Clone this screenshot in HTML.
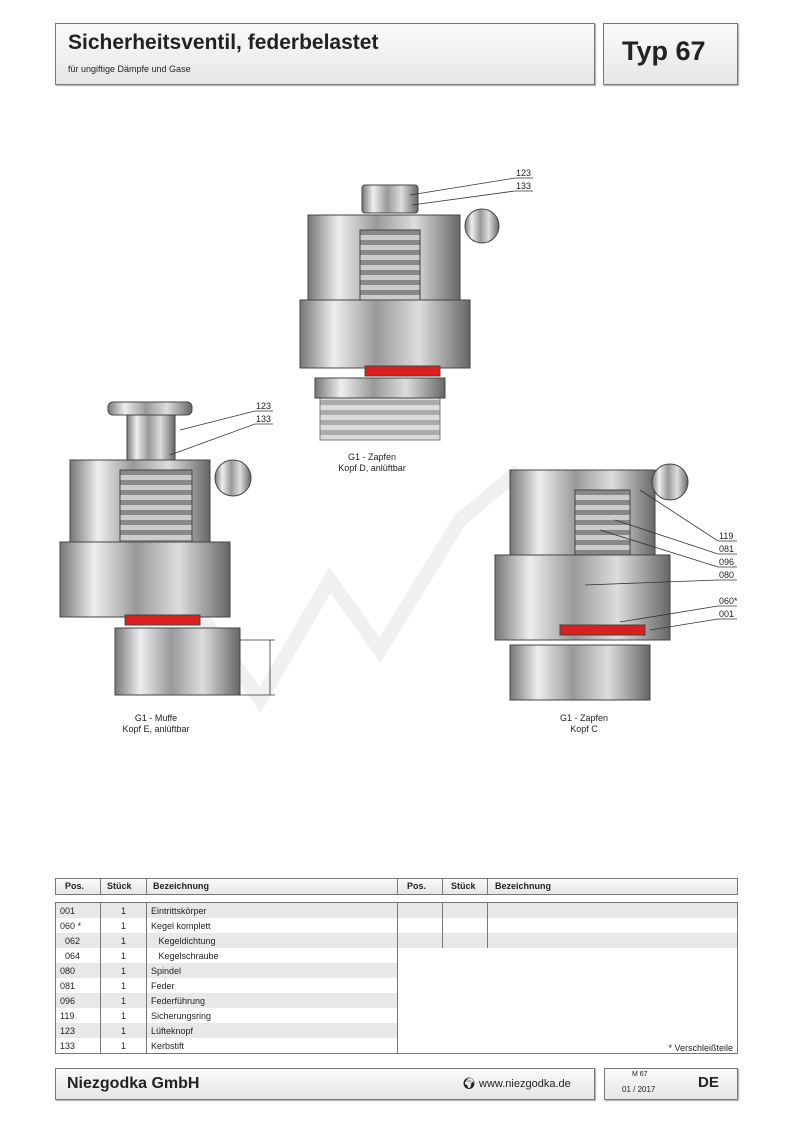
<!DOCTYPE html>
<html><head><meta charset="utf-8"><style>
body{margin:0;width:793px;height:1122px;background:#fff;font-family:"Liberation Sans",sans-serif;position:relative;overflow:hidden}
.box{position:absolute;border:1px solid #777;background:linear-gradient(#fafafa,#e6e6e6);box-shadow:1px 1px 1px #aaa}
.t{position:absolute;font-size:9px;color:#222;white-space:nowrap}
table{position:absolute;border-collapse:collapse;font-size:9px;color:#222}
td{height:15px;padding:0 4px;border-left:1px solid #777;border-right:1px solid #777}
</style></head><body>
<div class="box" style="left:55px;top:23px;width:538px;height:60px"></div>
<div class="t" style="left:68px;top:31px;font-size:21px;font-weight:bold;color:#222">Sicherheitsventil, federbelastet</div>
<div class="t" style="left:68px;top:64px;font-size:9px">für ungiftige Dämpfe und Gase</div>
<div class="box" style="left:603px;top:23px;width:133px;height:60px"></div>
<div class="t" style="left:622px;top:36px;font-size:27px;font-weight:bold">Typ 67</div>

<svg width="793" height="760" style="position:absolute;left:0;top:0">
<defs>
<linearGradient id="g" x1="0" x2="1"><stop offset="0" stop-color="#777"/><stop offset=".2" stop-color="#eee"/><stop offset=".45" stop-color="#999"/><stop offset=".7" stop-color="#ddd"/><stop offset="1" stop-color="#666"/></linearGradient>
<pattern id="sp" width="10" height="10" patternUnits="userSpaceOnUse"><rect width="10" height="10" fill="#ccc"/><rect y="0" width="10" height="5" fill="#888"/></pattern>
</defs>
<!-- watermark -->
<path d="M190 600 L260 700 L330 580 L380 650 L460 520 L520 470" fill="none" stroke="#f0f0f0" stroke-width="14"/>
<g stroke="#444" stroke-width="1">
<!-- valve 1 -->
<rect x="362" y="185" width="56" height="28" rx="3" fill="url(#g)"/>
<rect x="308" y="215" width="152" height="85" fill="url(#g)"/>
<rect x="360" y="230" width="60" height="120" fill="url(#sp)"/>
<rect x="300" y="300" width="170" height="68" fill="url(#g)"/>
<rect x="365" y="366" width="75" height="10" fill="#d82020"/>
<rect x="315" y="378" width="130" height="20" fill="url(#g)"/>
<rect x="320" y="398" width="120" height="42" fill="url(#sp)" opacity=".7"/>
<circle cx="482" cy="226" r="17" fill="url(#g)"/>
<!-- valve 2 -->
<rect x="108" y="402" width="84" height="13" rx="5" fill="url(#g)"/>
<rect x="127" y="415" width="48" height="50" fill="url(#g)"/>
<rect x="70" y="460" width="140" height="82" fill="url(#g)"/>
<rect x="120" y="470" width="72" height="140" fill="url(#sp)"/>
<rect x="60" y="542" width="170" height="75" fill="url(#g)"/>
<rect x="125" y="615" width="75" height="10" fill="#d82020"/>
<rect x="115" y="628" width="125" height="67" fill="url(#g)"/>
<circle cx="233" cy="478" r="18" fill="url(#g)"/>
<!-- valve 3 -->
<rect x="510" y="470" width="145" height="85" fill="url(#g)"/>
<rect x="575" y="490" width="55" height="125" fill="url(#sp)"/>
<rect x="495" y="555" width="175" height="85" fill="url(#g)"/>
<rect x="560" y="625" width="85" height="10" fill="#d82020"/>
<rect x="510" y="645" width="140" height="55" fill="url(#g)"/>
<circle cx="670" cy="482" r="18" fill="url(#g)"/>
</g>
<g stroke="#333" stroke-width=".8" fill="none">
<path d="M533 178H515L410 195M533 191H515L412 205"/>
<path d="M273 411H255L180 430M273 424H255L170 455"/>
<path d="M737 541H718L640 490M737 554H718L615 520M737 567H718L600 530M737 580H718L585 585M737 606H718L620 622M737 619H718L650 630"/>
<path d="M240 640H275M240 695H275M270 640V695"/>
</g>
<g font-family="Liberation Sans" font-size="9" fill="#222">
<text x="516" y="176">123</text><text x="516" y="189">133</text>
<text x="256" y="409">123</text><text x="256" y="422">133</text>
<text x="719" y="539">119</text><text x="719" y="552">081</text><text x="719" y="565">096</text><text x="719" y="578">080</text><text x="719" y="604">060*</text><text x="719" y="617">001</text>
<text x="372" y="460" text-anchor="middle">G1 - Zapfen</text><text x="372" y="471" text-anchor="middle">Kopf D, anlüftbar</text>
<text x="156" y="721" text-anchor="middle">G1 - Muffe</text><text x="156" y="732" text-anchor="middle">Kopf E, anlüftbar</text>
<text x="584" y="721" text-anchor="middle">G1 - Zapfen</text><text x="584" y="732" text-anchor="middle">Kopf C</text>
</g>
</svg>

<div class="box" style="left:55px;top:878px;width:681px;height:15px;box-shadow:none"></div>
<div class="t" style="left:65px;top:881px;font-weight:bold">Pos.</div>
<div class="t" style="left:107px;top:881px;font-weight:bold">Stück</div>
<div class="t" style="left:153px;top:881px;font-weight:bold">Bezeichnung</div>
<div class="t" style="left:407px;top:881px;font-weight:bold">Pos.</div>
<div class="t" style="left:451px;top:881px;font-weight:bold">Stück</div>
<div class="t" style="left:495px;top:881px;font-weight:bold">Bezeichnung</div>
<div style="position:absolute;left:100px;top:878px;width:1px;height:17px;background:#777"></div>
<div style="position:absolute;left:146px;top:878px;width:1px;height:17px;background:#777"></div>
<div style="position:absolute;left:397px;top:878px;width:1px;height:17px;background:#777"></div>
<div style="position:absolute;left:442px;top:878px;width:1px;height:17px;background:#777"></div>
<div style="position:absolute;left:487px;top:878px;width:1px;height:17px;background:#777"></div>

<table style="left:55px;top:902px;width:683px;border:1px solid #777">
<colgroup><col style="width:45px"><col style="width:46px"><col style="width:251px"><col style="width:45px"><col style="width:45px"><col></colgroup>
<tr style="background:#e8e8e8"><td>001</td><td align="center">1</td><td>Eintrittskörper</td><td></td><td></td><td></td></tr>
<tr><td>060 *</td><td align="center">1</td><td>Kegel komplett</td><td></td><td></td><td></td></tr>
<tr style="background:#e8e8e8"><td>&nbsp;&nbsp;062</td><td align="center">1</td><td>&nbsp;&nbsp;&nbsp;Kegeldichtung</td><td></td><td></td><td></td></tr>
<tr><td>&nbsp;&nbsp;064</td><td align="center">1</td><td>&nbsp;&nbsp;&nbsp;Kegelschraube</td><td colspan="3" rowspan="7" style="vertical-align:bottom;text-align:right;background:#fff">* Verschleißteile</td></tr>
<tr style="background:#e8e8e8"><td>080</td><td align="center">1</td><td>Spindel</td></tr>
<tr><td>081</td><td align="center">1</td><td>Feder</td></tr>
<tr style="background:#e8e8e8"><td>096</td><td align="center">1</td><td>Federführung</td></tr>
<tr><td>119</td><td align="center">1</td><td>Sicherungsring</td></tr>
<tr style="background:#e8e8e8"><td>123</td><td align="center">1</td><td>Lüfteknopf</td></tr>
<tr><td>133</td><td align="center">1</td><td>Kerbstift</td></tr>
</table>

<div class="box" style="left:55px;top:1068px;width:538px;height:30px"></div>
<div class="t" style="left:67px;top:1075px;font-size:16px;font-weight:bold">Niezgodka GmbH</div>
<div class="t" style="left:462px;top:1077px;font-size:11px">&#x1F30D;&#xFE0E; www.niezgodka.de</div>
<div class="box" style="left:604px;top:1068px;width:132px;height:30px"></div>
<div class="t" style="left:632px;top:1071px;font-size:7px">M 67</div>
<div class="t" style="left:622px;top:1085px;font-size:8px">01 / 2017</div>
<div class="t" style="left:698px;top:1074px;font-size:15px;font-weight:bold">DE</div>
</body></html>
